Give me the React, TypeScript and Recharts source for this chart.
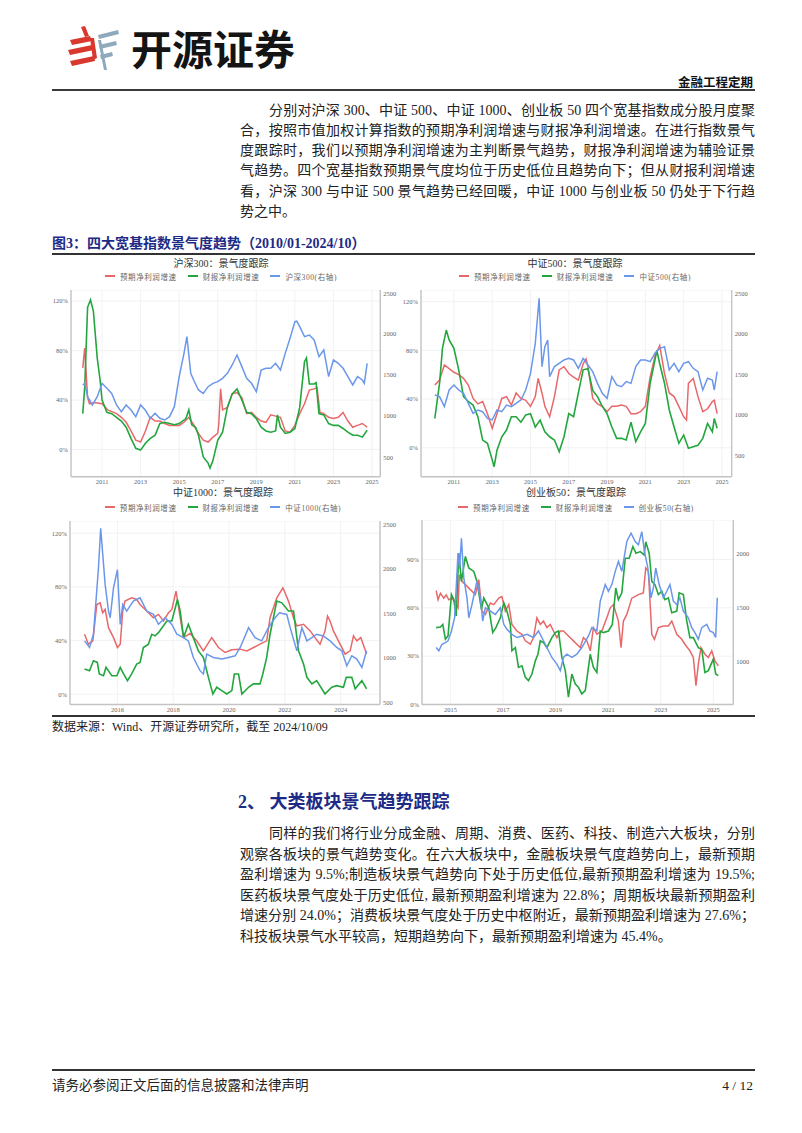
import { LineChart, Line, XAxis, YAxis, CartesianGrid } from 'recharts';

type Pt = [number, number];

// 沪深300 (2010/01-2024/10)
const hs300Forecast: Pt[] = [
  [2010.0, 66], [2010.1, 82], [2010.25, 42], [2010.35, 37], [2010.6, 38], [2011.0, 37], [2011.3, 32],
  [2011.75, 29], [2012.0, 26], [2012.25, 22], [2012.5, 15], [2012.75, 7.5], [2013.0, 6], [2013.25, 15],
  [2013.5, 26], [2013.75, 23], [2014.0, 23], [2014.25, 21], [2014.5, 19.5], [2015.0, 19.5], [2015.25, 22],
  [2015.5, 26], [2015.75, 20], [2016.0, 13], [2016.25, 7.5], [2016.5, 6], [2016.75, 10], [2017.0, 13],
  [2017.05, 20], [2017.15, 49], [2017.25, 32], [2017.5, 34], [2017.75, 45], [2018.0, 46], [2018.25, 42],
  [2018.5, 29], [2018.75, 30], [2019.0, 26], [2019.25, 23], [2019.5, 22], [2019.75, 28], [2020.0, 27],
  [2020.25, 26], [2020.5, 15], [2020.75, 14], [2021.0, 19.5], [2021.25, 29], [2021.5, 37], [2021.75, 48],
  [2022.0, 49], [2022.15, 50], [2022.3, 30], [2022.5, 29], [2022.75, 26], [2023.0, 25], [2023.25, 26],
  [2023.5, 30], [2023.75, 23], [2024.0, 18], [2024.25, 19.5], [2024.5, 21], [2024.75, 18],
];
const hs300Reported: Pt[] = [
  [2010.0, 29], [2010.1, 50], [2010.25, 115], [2010.4, 121], [2010.55, 112], [2010.75, 74], [2010.9, 56],
  [2011.0, 40], [2011.25, 30], [2011.5, 29], [2011.75, 26], [2012.0, 23], [2012.25, 18], [2012.5, 9],
  [2012.75, 1], [2013.0, -0.5], [2013.25, 5], [2013.5, 9], [2013.75, 11.5], [2014.0, 21], [2014.25, 22],
  [2014.5, 21], [2014.75, 20], [2015.0, 21], [2015.35, 25], [2015.5, 32], [2015.65, 20], [2015.85, 18],
  [2016.0, 11.5], [2016.25, -6], [2016.5, -11], [2016.6, -15], [2016.75, -9], [2017.0, 7.5], [2017.25, 14],
  [2017.5, 34], [2017.75, 45], [2018.0, 49], [2018.25, 40], [2018.5, 30], [2018.75, 29], [2019.0, 25],
  [2019.25, 18], [2019.5, 15], [2019.75, 14], [2020.0, 15], [2020.1, 28], [2020.25, 18], [2020.5, 13],
  [2020.75, 14], [2021.0, 17], [2021.25, 34], [2021.5, 71], [2021.6, 74], [2021.75, 53], [2022.0, 53],
  [2022.1, 54], [2022.25, 29], [2022.5, 28], [2022.75, 21], [2023.0, 19.5], [2023.25, 19.5], [2023.5, 17],
  [2023.75, 14], [2024.0, 11.5], [2024.25, 11.5], [2024.5, 10], [2024.75, 15.5],
];
const hs300Index: Pt[] = [
  [2010.0, 1377], [2010.1, 1397], [2010.25, 1235], [2010.5, 1134], [2010.75, 1235], [2011.0, 1397],
  [2011.25, 1336], [2011.5, 1275], [2011.75, 1134], [2012.0, 1053], [2012.25, 1134], [2012.5, 1074],
  [2012.75, 993], [2013.0, 1134], [2013.25, 1070], [2013.5, 973], [2013.75, 1033], [2014.0, 973],
  [2014.25, 952], [2014.5, 993], [2014.75, 1114], [2015.0, 1478], [2015.25, 1760], [2015.4, 1962],
  [2015.6, 1518], [2015.75, 1437], [2016.0, 1316], [2016.25, 1275], [2016.5, 1356], [2016.75, 1397],
  [2017.0, 1417], [2017.25, 1457], [2017.5, 1518], [2017.75, 1619], [2018.0, 1740], [2018.25, 1599],
  [2018.5, 1457], [2018.75, 1397], [2019.0, 1296], [2019.25, 1558], [2019.5, 1579], [2019.75, 1579],
  [2020.0, 1639], [2020.25, 1558], [2020.5, 1760], [2020.75, 1942], [2021.0, 2144], [2021.1, 2150],
  [2021.25, 2084], [2021.5, 1962], [2021.75, 1982], [2022.0, 1922], [2022.25, 1720], [2022.5, 1801],
  [2022.75, 1478], [2023.0, 1680], [2023.25, 1639], [2023.5, 1579], [2023.75, 1478], [2024.0, 1377],
  [2024.25, 1478], [2024.5, 1437], [2024.6, 1397], [2024.75, 1639],
];

// 中证500 (2010/01-2024/10)
const zz500Forecast: Pt[] = [
  [2010.0, 51.5], [2010.25, 55.6], [2010.5, 68], [2010.75, 65], [2011.0, 62], [2011.25, 60], [2011.5, 57],
  [2011.75, 51.5], [2012.0, 40.5], [2012.25, 36], [2012.5, 38], [2012.75, 28], [2013.0, 16], [2013.25, 28],
  [2013.5, 40.5], [2013.75, 42], [2014.0, 35], [2014.25, 45], [2014.5, 40.5], [2014.75, 39], [2015.0, 34],
  [2015.25, 42], [2015.4, 57], [2015.6, 45], [2015.75, 34], [2016.0, 25.5], [2016.25, 42], [2016.5, 64],
  [2016.75, 66.6], [2017.0, 61], [2017.25, 58], [2017.5, 55.6], [2017.75, 69], [2017.9, 73], [2018.0, 66.6],
  [2018.25, 40.5], [2018.5, 36], [2018.75, 34], [2019.0, 29.6], [2019.25, 34], [2019.5, 34], [2019.75, 35],
  [2020.0, 34], [2020.25, 28], [2020.5, 28], [2020.75, 29.6], [2021.0, 34], [2021.25, 58], [2021.5, 75],
  [2021.75, 84], [2022.0, 61], [2022.25, 45], [2022.5, 42], [2022.75, 34], [2023.0, 25.5], [2023.15, 22.7],
  [2023.25, 53], [2023.5, 57], [2023.75, 42], [2024.0, 29.6], [2024.25, 32], [2024.5, 38], [2024.6, 39],
  [2024.75, 28],
];
const zz500Reported: Pt[] = [
  [2010.0, 24], [2010.25, 53], [2010.4, 81.6], [2010.6, 96.7], [2010.75, 88.5], [2011.0, 81.6],
  [2011.25, 64], [2011.5, 42], [2011.75, 38], [2012.0, 35], [2012.25, 25.5], [2012.5, 6.3], [2012.75, 3.6],
  [2013.0, -10], [2013.1, -15.6], [2013.25, -2], [2013.5, 9], [2013.75, 14.5], [2014.0, 25.5],
  [2014.25, 25.5], [2014.5, 21], [2014.75, 27], [2015.0, 28], [2015.25, 17], [2015.5, 22.7], [2015.75, 13],
  [2016.0, 9], [2016.25, 6.3], [2016.5, -3.3], [2016.75, 9], [2017.0, 28], [2017.25, 25.5], [2017.5, 45],
  [2017.75, 64], [2018.0, 65], [2018.25, 47], [2018.5, 42], [2018.75, 34], [2019.0, 28], [2019.25, 17],
  [2019.5, 7.7], [2019.75, 7.7], [2020.0, 6.3], [2020.25, 21], [2020.5, 5], [2020.75, 13], [2021.0, 20],
  [2021.25, 53], [2021.5, 72], [2021.6, 80], [2021.75, 69], [2022.0, 53], [2022.25, 31], [2022.5, 17],
  [2022.75, 3.6], [2023.0, 10.4], [2023.25, -0.5], [2023.5, 0.8], [2023.75, 2], [2024.0, 7.7],
  [2024.25, 20], [2024.5, 13], [2024.6, 24], [2024.75, 16],
];
const zz500Index: Pt[] = [
  [2010.0, 1247], [2010.25, 1227], [2010.5, 1104], [2010.75, 1309], [2011.0, 1371], [2011.25, 1309],
  [2011.5, 1268], [2011.75, 1145], [2012.0, 1022], [2012.25, 1063], [2012.5, 1042], [2012.75, 960],
  [2013.0, 940], [2013.25, 1063], [2013.5, 1042], [2013.75, 1124], [2014.0, 1104], [2014.25, 1145],
  [2014.5, 1186], [2014.75, 1309], [2015.0, 1514], [2015.25, 1884], [2015.45, 2438], [2015.6, 1597],
  [2015.75, 1843], [2015.9, 1925], [2016.0, 1473], [2016.25, 1597], [2016.5, 1638], [2016.75, 1679],
  [2017.0, 1699], [2017.25, 1679], [2017.5, 1576], [2017.75, 1699], [2018.0, 1617], [2018.25, 1535],
  [2018.5, 1391], [2018.75, 1268], [2019.0, 1206], [2019.25, 1473], [2019.5, 1371], [2019.75, 1350],
  [2020.0, 1412], [2020.25, 1391], [2020.5, 1597], [2020.75, 1679], [2021.0, 1679], [2021.25, 1658],
  [2021.5, 1761], [2021.75, 1822], [2022.0, 1843], [2022.25, 1556], [2022.5, 1638], [2022.75, 1535],
  [2023.0, 1638], [2023.25, 1658], [2023.5, 1576], [2023.75, 1535], [2024.0, 1309], [2024.25, 1453],
  [2024.5, 1432], [2024.6, 1309], [2024.75, 1535],
];

// 中证1000
const zz1000Forecast: Pt[] = [
  [2014.82, 44.7], [2014.96, 37.3], [2015.12, 39.8], [2015.26, 66.9], [2015.38, 68.1], [2015.47, 60.7],
  [2015.56, 63.2], [2015.68, 49.6], [2015.86, 42.2], [2016.0, 34.8], [2016.1, 37.3], [2016.19, 62],
  [2016.27, 69.4], [2016.51, 71.8], [2016.69, 70.6], [2016.81, 66.9], [2017.05, 62], [2017.29, 57],
  [2017.47, 59.5], [2017.65, 54.6], [2017.83, 60.7], [2017.95, 63.2], [2018.1, 76.8], [2018.25, 57],
  [2018.37, 42.2], [2018.6, 45.2], [2018.84, 39.8], [2019.08, 32.3], [2019.38, 42.2], [2019.62, 34.8],
  [2019.86, 31.1], [2020.1, 33.1], [2020.4, 33.6], [2020.64, 32.3], [2020.88, 34.8], [2021.11, 37.3],
  [2021.35, 39.8], [2021.47, 57], [2021.71, 71.8], [2021.93, 79.3], [2022.13, 69.4], [2022.31, 57],
  [2022.43, 50.9], [2022.67, 52.1], [2022.91, 47.2], [2023.08, 42.2], [2023.26, 37.3], [2023.44, 47.2],
  [2023.53, 58.3], [2023.62, 54.6], [2023.74, 47.2], [2023.92, 39.8], [2024.16, 29.9], [2024.34, 32.3],
  [2024.46, 43.5], [2024.58, 39.8], [2024.72, 42.2], [2024.93, 29.9],
];
const zz1000Reported: Pt[] = [
  [2014.82, 18.8], [2015.0, 17.5], [2015.14, 24.9], [2015.28, 23.7], [2015.35, 15.1], [2015.5, 13.8],
  [2015.59, 20], [2015.8, 13.8], [2015.98, 13.8], [2016.1, 20], [2016.22, 15.1], [2016.36, 10.1],
  [2016.51, 15.1], [2016.69, 22.5], [2016.81, 23.7], [2016.93, 34.8], [2017.11, 37.3], [2017.23, 44.7],
  [2017.35, 43.5], [2017.47, 45.9], [2017.77, 54.6], [2017.95, 54.6], [2018.15, 70.6], [2018.25, 62],
  [2018.37, 42.2], [2018.54, 52.1], [2018.72, 42.2], [2018.9, 32.3], [2019.08, 27.4], [2019.26, 12.6],
  [2019.42, 0.2], [2019.56, 5.2], [2019.74, 2.7], [2019.92, 0.2], [2020.1, 2.7], [2020.19, 15.1],
  [2020.34, 15.1], [2020.46, 0.2], [2020.7, 5.2], [2020.87, 7.7], [2021.11, 7.7], [2021.21, 15.1],
  [2021.35, 27.4], [2021.47, 44.7], [2021.71, 69.4], [2021.89, 68.1], [2022.13, 62], [2022.31, 62],
  [2022.49, 32.3], [2022.67, 22.5], [2022.79, 12.6], [2022.97, 7.7], [2023.14, 10.1], [2023.44, 0.2],
  [2023.68, 5.2], [2023.86, 6.4], [2024.1, 5.2], [2024.2, 12.6], [2024.4, 12.6], [2024.52, 4],
  [2024.76, 10.1], [2024.93, 4],
];
const zz1000Index: Pt[] = [
  [2014.82, 1194], [2015.0, 1120], [2015.14, 1268], [2015.32, 2010], [2015.4, 2455], [2015.56, 1824],
  [2015.68, 1528], [2015.74, 1453], [2015.86, 1787], [2016.0, 1991], [2016.1, 1379], [2016.19, 1602],
  [2016.33, 1528], [2016.57, 1639], [2016.81, 1676], [2017.05, 1528], [2017.29, 1491], [2017.47, 1379],
  [2017.71, 1453], [2017.95, 1379], [2018.13, 1268], [2018.37, 1231], [2018.54, 1194], [2018.72, 1008],
  [2018.96, 860], [2019.08, 823], [2019.2, 1045], [2019.44, 1008], [2019.74, 990], [2019.98, 1008],
  [2020.22, 1027], [2020.4, 1120], [2020.7, 1342], [2020.93, 1231], [2021.17, 1194], [2021.41, 1342],
  [2021.65, 1453], [2021.81, 1509], [2022.07, 1490], [2022.19, 1342], [2022.43, 1083], [2022.61, 1342],
  [2022.79, 1194], [2022.97, 1231], [2023.14, 1268], [2023.38, 1249], [2023.62, 1194], [2023.86, 1120],
  [2024.04, 1083], [2024.22, 915], [2024.4, 1027], [2024.58, 990], [2024.76, 897], [2024.93, 1083],
];

// 创业板50
const cyb50Forecast: Pt[] = [
  [2014.46, 70.7], [2014.53, 65], [2014.62, 69], [2014.75, 66], [2014.84, 68], [2014.94, 65], [2015.06, 66],
  [2015.19, 63], [2015.29, 60], [2015.34, 80.5], [2015.44, 76.4], [2015.57, 74.4], [2015.76, 71.3],
  [2015.95, 68.2], [2016.08, 77.5], [2016.2, 58], [2016.33, 55.9], [2016.52, 63], [2016.65, 62],
  [2016.84, 66], [2016.96, 67], [2017.09, 58], [2017.22, 62], [2017.34, 49.7], [2017.53, 45.6],
  [2017.72, 43.6], [2017.85, 39.5], [2018.04, 37.4], [2018.16, 41.5], [2018.29, 53.8], [2018.42, 49.7],
  [2018.54, 51.8], [2018.67, 47.7], [2018.8, 49.7], [2018.92, 45.6], [2019.05, 41.5], [2019.18, 45.6],
  [2019.3, 45.6], [2019.49, 42.5], [2019.68, 39.5], [2019.81, 37.4], [2019.94, 35.3], [2020.06, 41.5],
  [2020.19, 39.5], [2020.32, 33.3], [2020.44, 47.7], [2020.57, 43.6], [2020.76, 45.6], [2020.95, 53.8],
  [2021.08, 60], [2021.2, 62], [2021.39, 51.8], [2021.49, 35.3], [2021.58, 51.8], [2021.71, 55.9],
  [2021.9, 66], [2022.15, 68.2], [2022.34, 69.3], [2022.43, 84.7], [2022.53, 82.6], [2022.66, 43.6],
  [2022.76, 40.5], [2022.91, 47.7], [2023.1, 48.7], [2023.29, 48.7], [2023.42, 51.8], [2023.61, 43.6],
  [2023.8, 40.5], [2023.92, 37.4], [2024.11, 33.3], [2024.24, 29.2], [2024.34, 11.7], [2024.43, 25],
  [2024.53, 35.3], [2024.68, 31.2], [2024.81, 29.2], [2024.94, 33.3], [2025.06, 27.1], [2025.19, 24],
];
const cyb50Reported: Pt[] = [
  [2014.46, 47.7], [2014.62, 48.1], [2014.71, 49.7], [2014.81, 40.5], [2014.91, 42.5], [2015.04, 68.2],
  [2015.13, 65.1], [2015.22, 54.9], [2015.32, 93.9], [2015.42, 76.4], [2015.57, 91.9], [2015.7, 84.7],
  [2015.89, 82.6], [2016.01, 76.4], [2016.18, 59], [2016.27, 66.2], [2016.46, 60], [2016.61, 44.6],
  [2016.73, 47.7], [2016.9, 53.8], [2017.03, 63.1], [2017.15, 58], [2017.28, 49.7], [2017.34, 33.3],
  [2017.47, 35.3], [2017.59, 23], [2017.72, 24], [2017.85, 16.9], [2017.97, 14.8], [2018.1, 18.9],
  [2018.23, 27.1], [2018.33, 31.2], [2018.42, 39.5], [2018.54, 38.4], [2018.67, 35.3], [2018.86, 41.5],
  [2018.99, 44.6], [2019.11, 45.6], [2019.24, 29.2], [2019.37, 21], [2019.49, 4.5], [2019.62, 18.9],
  [2019.75, 12.7], [2019.87, 10.7], [2020.0, 6.6], [2020.13, 8.6], [2020.32, 31.2], [2020.44, 23],
  [2020.57, 19.9], [2020.7, 45.6], [2020.82, 44.6], [2021.01, 45.6], [2021.16, 49.7], [2021.29, 72.3],
  [2021.39, 65.1], [2021.52, 69.3], [2021.65, 90.8], [2021.8, 90.8], [2021.94, 98], [2022.06, 93.9],
  [2022.22, 94.9], [2022.37, 92.8], [2022.43, 101], [2022.56, 93.9], [2022.66, 76.4], [2022.78, 74.4],
  [2022.91, 68.2], [2023.04, 70.3], [2023.16, 65.1], [2023.29, 66.2], [2023.42, 56.9], [2023.61, 58],
  [2023.7, 69.3], [2023.86, 68.2], [2023.99, 51.8], [2024.11, 41.5], [2024.24, 41.5], [2024.43, 35.3],
  [2024.56, 34.3], [2024.68, 19.9], [2024.81, 21], [2025.0, 28.2], [2025.09, 18.9], [2025.19, 17.9],
];
const cyb50Index: Pt[] = [
  [2014.46, 1132], [2014.56, 1102], [2014.68, 1163], [2014.81, 1178], [2014.91, 1194], [2015.04, 1286],
  [2015.16, 1409], [2015.29, 2009], [2015.35, 1871], [2015.42, 2148], [2015.51, 1778], [2015.63, 1594],
  [2015.7, 1409], [2015.82, 1532], [2016.01, 1748], [2016.14, 1594], [2016.23, 1378], [2016.33, 1502],
  [2016.52, 1471], [2016.71, 1440], [2016.9, 1502], [2017.03, 1348], [2017.15, 1302], [2017.34, 1255],
  [2017.53, 1225], [2017.72, 1240], [2017.91, 1255], [2018.16, 1225], [2018.35, 1286], [2018.61, 1163],
  [2018.86, 1040], [2019.05, 978], [2019.18, 917], [2019.3, 1040], [2019.43, 1071], [2019.62, 1040],
  [2019.81, 1071], [2020.0, 1132], [2020.25, 1240], [2020.38, 1317], [2020.57, 1286], [2020.7, 1563],
  [2020.89, 1717], [2021.01, 1655], [2021.14, 1717], [2021.27, 1840], [2021.39, 1932], [2021.52, 1840],
  [2021.71, 2117], [2021.87, 2194], [2022.03, 2117], [2022.15, 2086], [2022.28, 2209], [2022.38, 2025],
  [2022.51, 1871], [2022.63, 1594], [2022.72, 1686], [2022.81, 1871], [2022.94, 1717], [2023.1, 1594],
  [2023.23, 1655], [2023.35, 1717], [2023.48, 1563], [2023.61, 1532], [2023.73, 1594], [2023.86, 1471],
  [2024.05, 1409], [2024.18, 1317], [2024.3, 1271], [2024.43, 1209], [2024.56, 1317], [2024.75, 1348],
  [2024.87, 1286], [2025.0, 1271], [2025.09, 1225], [2025.15, 1594],
];

const yearTicksOdd = [2011, 2013, 2015, 2017, 2019, 2021, 2023, 2025];
const yearTicksEven = [2016, 2018, 2020, 2022, 2024];
const yearTicks50 = [2015, 2017, 2019, 2021, 2023, 2025];
const pctTicks = [0, 40, 80, 120];
const pctTicks50 = [0, 30, 60, 90];
const idxTicks = [500, 1000, 1500, 2000, 2500];
const idxTicks50 = [1000, 1500, 2000];

const seriesNames = ['预期净利润增速', '财报净利润增速'];

const RED = '#e8686a';
const GREEN = '#22a63d';
const BLUE = '#6b97ea';
const NAVY = '#1d2b86';
const SERIF = '"Liberation Serif", "Noto Sans CJK SC", serif';
const CJK = '"Noto Sans CJK SC", sans-serif';

const toRows = (s: Pt[]) => s.map(([t, v]) => ({ t, v }));

interface PanelProps {
  title: string;
  indexName: string;
  forecast: Pt[];
  reported: Pt[];
  index: Pt[];
  plot: { left: number; top: number; width: number; height: number };
  titleX: number;
  titleY: number;
  legendY: number;
  xDomain: [number, number];
  xTicks: number[];
  leftDomain: [number, number];
  leftTicks: number[];
  rightDomain: [number, number];
  rightTicks: number[];
}

const AXIS_W = 24;
const XAXIS_H = 12;
const tickStyle = { fontSize: 6.5, fill: '#666', fontFamily: SERIF };
const axisLine = { stroke: '#c4c4c4', strokeWidth: 1.4 };

function Panel(p: PanelProps) {
  const legendItems = [
    { name: seriesNames[0], color: RED },
    { name: seriesNames[1], color: GREEN },
    { name: p.indexName, color: BLUE },
  ];
  return (
    <>
      <div
        style={{
          position: 'absolute',
          left: p.titleX - 100,
          width: 200,
          top: p.titleY - 7,
          height: 14,
          lineHeight: '14px',
          textAlign: 'center',
          fontSize: 10,
          color: '#333',
          fontFamily: SERIF,
          whiteSpace: 'nowrap',
        }}
      >
        {p.title}
      </div>
      <div
        style={{
          position: 'absolute',
          left: p.titleX - 150,
          width: 300,
          top: p.legendY - 6,
          height: 12,
          display: 'flex',
          justifyContent: 'center',
          alignItems: 'center',
          gap: 11,
          fontSize: 7.5,
          color: '#666',
          fontFamily: SERIF,
          whiteSpace: 'nowrap',
        }}
      >
        {legendItems.map((it) => (
          <span key={it.name} style={{ display: 'flex', alignItems: 'center' }}>
            <span style={{ display: 'inline-block', width: 10, height: 1.6, background: it.color, marginRight: 5 }} />
            <span style={{ letterSpacing: 0.6 }}>{it.name}</span>
          </span>
        ))}
      </div>
      <div style={{ position: 'absolute', left: p.plot.left - AXIS_W, top: p.plot.top }}>
        <LineChart
          width={p.plot.width + AXIS_W * 2}
          height={p.plot.height + XAXIS_H}
          margin={{ top: 0, right: 0, bottom: 0, left: 0 }}
        >
          <CartesianGrid yAxisId="left" stroke="#efefef" strokeWidth={0.8} />
          <XAxis
            type="number"
            dataKey="t"
            domain={p.xDomain}
            ticks={p.xTicks}
            allowDataOverflow
            height={XAXIS_H}
            tick={tickStyle}
            tickSize={0}
            tickMargin={3}
            axisLine={axisLine}
            tickLine={false}
          />
          <YAxis
            yAxisId="left"
            orientation="left"
            domain={p.leftDomain}
            ticks={p.leftTicks}
            allowDataOverflow
            width={AXIS_W}
            tick={tickStyle}
            tickSize={0}
            tickMargin={3}
            axisLine={axisLine}
            tickLine={false}
            tickFormatter={(v: number) => `${v}%`}
          />
          <YAxis
            yAxisId="right"
            orientation="right"
            domain={p.rightDomain}
            ticks={p.rightTicks}
            allowDataOverflow
            width={AXIS_W}
            tick={tickStyle}
            tickSize={0}
            tickMargin={3}
            axisLine={axisLine}
            tickLine={false}
          />
          <Line
            yAxisId="left"
            data={toRows(p.forecast)}
            dataKey="v"
            name={seriesNames[0]}
            stroke={RED}
            strokeWidth={1.5}
            dot={false}
            isAnimationActive={false}
          />
          <Line
            yAxisId="left"
            data={toRows(p.reported)}
            dataKey="v"
            name={seriesNames[1]}
            stroke={GREEN}
            strokeWidth={1.6}
            dot={false}
            isAnimationActive={false}
          />
          <Line
            yAxisId="right"
            data={toRows(p.index)}
            dataKey="v"
            name={p.indexName}
            stroke={BLUE}
            strokeWidth={1.5}
            dot={false}
            isAnimationActive={false}
          />
        </LineChart>
      </div>
    </>
  );
}

const para1 = [
  '分别对沪深 300、中证 500、中证 1000、创业板 50 四个宽基指数成分股月度聚',
  '合，按照市值加权计算指数的预期净利润增速与财报净利润增速。在进行指数景气',
  '度跟踪时，我们以预期净利润增速为主判断景气趋势，财报净利润增速为辅验证景',
  '气趋势。四个宽基指数预期景气度均位于历史低位且趋势向下；但从财报利润增速',
  '看，沪深 300 与中证 500 景气趋势已经回暖，中证 1000 与创业板 50 仍处于下行趋',
  '势之中。',
];
const para2 = [
  '同样的我们将行业分成金融、周期、消费、医药、科技、制造六大板块，分别',
  '观察各板块的景气趋势变化。在六大板块中，金融板块景气度趋势向上，最新预期',
  '盈利增速为 9.5%;制造板块景气趋势向下处于历史低位,最新预期盈利增速为 19.5%;',
  '医药板块景气度处于历史低位, 最新预期盈利增速为 22.8%；周期板块最新预期盈利',
  '增速分别 24.0%；消费板块景气度处于历史中枢附近，最新预期盈利增速为 27.6%；',
  '科技板块景气水平较高，短期趋势向下，最新预期盈利增速为 45.4%。',
];

const TEXT_LEFT = 240;
const TEXT_RIGHT = 755;

function Paragraph({ lines, firstY, step }: { lines: string[]; firstY: number; step: number }) {
  return (
    <>
      {lines.map((line, i) => {
        const indent = i === 0 ? 29 : 0;
        const last = i === lines.length - 1;
        return (
          <div
            key={i}
            style={{
              position: 'absolute',
              left: TEXT_LEFT + indent,
              width: TEXT_RIGHT - TEXT_LEFT - indent,
              top: firstY + i * step - 10,
              height: 20,
              lineHeight: '20px',
              fontSize: 14,
              color: '#222',
              fontFamily: SERIF,
              whiteSpace: 'nowrap',
              textAlign: last ? 'left' : 'justify',
              textAlignLast: last ? 'left' : 'justify',
            }}
          >
            {line}
          </div>
        );
      })}
    </>
  );
}

function Logo() {
  return (
    <svg style={{ position: 'absolute', left: 60, top: 20 }} width={66} height={56} viewBox="60 20 66 56">
      <g fill="#d8382e">
        <polygon points="81,27 85,26 89,36 85,37" />
        <polygon points="70,40 90,36 92,41 72,45" />
        <polygon points="68,50 92,45 94,50 70,55" />
        <polygon points="70,61 94,56 95,61 72,66" />
        <polygon points="90,38 94,38 97,58 93,60" />
      </g>
      <g fill="#8fa9bc">
        <polygon points="98,35 118,30 119,34 99,39" />
        <polygon points="99,45 116,41 117,45 100,49" />
        <polygon points="100,55 112,52 113,56 101,59" />
        <polygon points="98,40 101,40 107,70 104,70" />
      </g>
    </svg>
  );
}

export default function App() {
  return (
    <div
      style={{
        position: 'absolute',
        left: 0,
        top: 0,
        width: 802,
        height: 1133,
        background: '#fff',
        overflow: 'hidden',
      }}
    >
      <style>{'body{margin:0}'}</style>
      <Logo />
      <div
        style={{
          position: 'absolute',
          left: 131,
          top: 22,
          height: 50,
          lineHeight: '50px',
          fontSize: 41,
          fontWeight: 700,
          color: '#141414',
          fontFamily: CJK,
          whiteSpace: 'nowrap',
        }}
      >
        开源证券
      </div>
      <div
        style={{
          position: 'absolute',
          right: 802 - 753,
          top: 74,
          height: 16,
          lineHeight: '16px',
          fontSize: 12.5,
          fontWeight: 700,
          color: '#111',
          fontFamily: CJK,
        }}
      >
        金融工程定期
      </div>
      <div style={{ position: 'absolute', left: 52, top: 89, width: 703, height: 2, background: '#3a3a3a' }} />

      <Paragraph lines={para1} firstY={110.5} step={20.3} />

      <div
        style={{
          position: 'absolute',
          left: 52,
          top: 236,
          height: 16,
          lineHeight: '16px',
          fontSize: 14,
          fontWeight: 700,
          color: NAVY,
          fontFamily: SERIF,
          whiteSpace: 'nowrap',
        }}
      >
        图3：四大宽基指数景气度趋势（2010/01-2024/10）
      </div>
      <div style={{ position: 'absolute', left: 52, top: 253, width: 703, height: 1.5, background: '#333' }} />

      <Panel
        title="沪深300：景气度跟踪"
        indexName="沪深300(右轴)"
        forecast={hs300Forecast}
        reported={hs300Reported}
        index={hs300Index}
        plot={{ left: 70.7, top: 290, width: 309.3, height: 186.7 }}
        titleX={221}
        titleY={264}
        legendY={276}
        xDomain={[2009.39, 2025.43]}
        xTicks={yearTicksOdd}
        leftDomain={[-22, 129]}
        leftTicks={pctTicks}
        rightDomain={[265, 2528]}
        rightTicks={idxTicks}
      />
      <Panel
        title="中证500：景气度跟踪"
        indexName="中证500(右轴)"
        forecast={zz500Forecast}
        reported={zz500Reported}
        index={zz500Index}
        plot={{ left: 421, top: 290, width: 310.7, height: 186.7 }}
        titleX={575}
        titleY={264}
        legendY={276}
        xDomain={[2009.28, 2025.51]}
        xTicks={yearTicksOdd}
        leftDomain={[-23.8, 129.6]}
        leftTicks={pctTicks}
        rightDomain={[241, 2541]}
        rightTicks={idxTicks}
      />
      <Panel
        title="中证1000：景气度跟踪"
        indexName="中证1000(右轴)"
        forecast={zz1000Forecast}
        reported={zz1000Reported}
        index={zz1000Index}
        plot={{ left: 70, top: 521, width: 310, height: 183.5 }}
        titleX={223}
        titleY={492.5}
        legendY={507}
        xDomain={[2014.3, 2025.41]}
        xTicks={yearTicksEven}
        leftDomain={[-7.65, 129.1]}
        leftTicks={pctTicks}
        rightDomain={[481, 2537]}
        rightTicks={idxTicks}
      />
      <Panel
        title="创业板50：景气度跟踪"
        indexName="创业板50(右轴)"
        forecast={cyb50Forecast}
        reported={cyb50Reported}
        index={cyb50Index}
        plot={{ left: 421.7, top: 520, width: 311.3, height: 184.5 }}
        titleX={576}
        titleY={492.5}
        legendY={507}
        xDomain={[2013.92, 2025.76]}
        xTicks={yearTicks50}
        leftDomain={[0, 114.5]}
        leftTicks={pctTicks50}
        rightDomain={[603, 2317]}
        rightTicks={idxTicks50}
      />

      <div style={{ position: 'absolute', left: 52, top: 715, width: 703, height: 1.5, background: '#333' }} />
      <div
        style={{
          position: 'absolute',
          left: 52,
          top: 720,
          height: 15,
          lineHeight: '15px',
          fontSize: 12,
          color: '#222',
          fontFamily: SERIF,
          whiteSpace: 'nowrap',
        }}
      >
        数据来源：Wind、开源证券研究所，截至 2024/10/09
      </div>

      <div
        style={{
          position: 'absolute',
          left: 238,
          top: 789,
          height: 26,
          lineHeight: '26px',
          fontSize: 18,
          fontWeight: 700,
          color: NAVY,
          fontFamily: SERIF,
          whiteSpace: 'nowrap',
        }}
      >
        2、 大类板块景气趋势跟踪
      </div>

      <Paragraph lines={para2} firstY={834} step={20.6} />

      <div style={{ position: 'absolute', left: 52, top: 1069, width: 703, height: 1.5, background: '#333' }} />
      <div
        style={{
          position: 'absolute',
          left: 52,
          top: 1078,
          height: 16,
          lineHeight: '16px',
          fontSize: 13.5,
          color: '#222',
          fontFamily: SERIF,
          whiteSpace: 'nowrap',
        }}
      >
        请务必参阅正文后面的信息披露和法律声明
      </div>
      <div
        style={{
          position: 'absolute',
          right: 802 - 753,
          top: 1078,
          height: 16,
          lineHeight: '16px',
          fontSize: 13.5,
          color: '#222',
          fontFamily: SERIF,
          whiteSpace: 'nowrap',
        }}
      >
        4 / 12
      </div>
    </div>
  );
}
